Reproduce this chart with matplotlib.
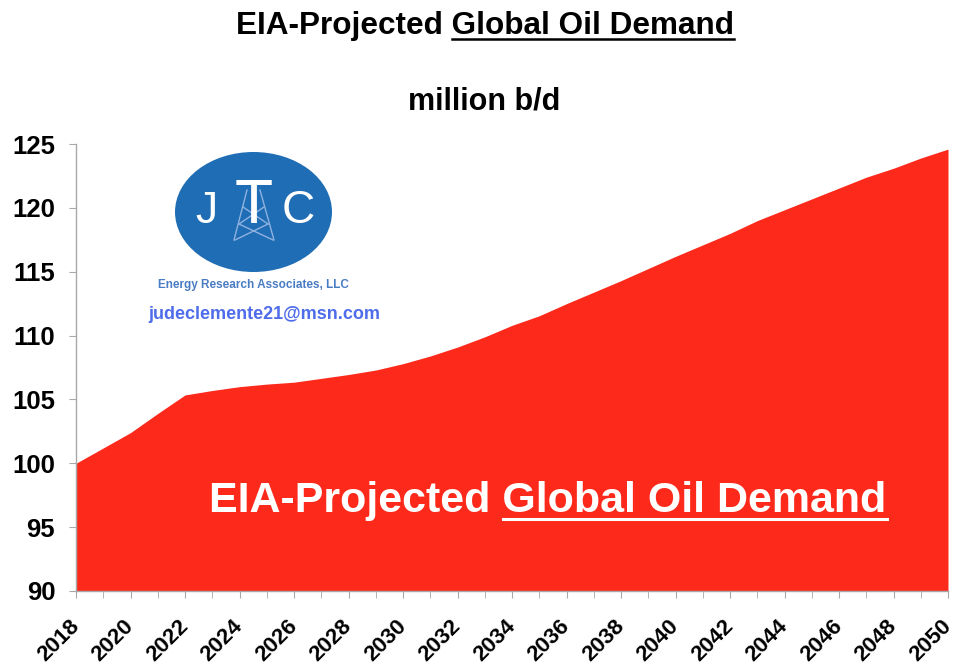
import matplotlib
matplotlib.use("Agg")
import matplotlib.pyplot as plt
from matplotlib.patches import Ellipse
from matplotlib.lines import Line2D
from matplotlib.ticker import MultipleLocator

# ---- data ----
years = list(range(2018, 2051))
demand = [100.0, 101.2, 102.4, 103.9, 105.35, 105.7, 106.0, 106.2, 106.35, 106.65,
          106.95, 107.3, 107.8, 108.4, 109.1, 109.9, 110.8, 111.55, 112.5, 113.4,
          114.3, 115.25, 116.2, 117.1, 118.0, 119.0, 119.85, 120.7, 121.55, 122.4,
          123.1, 123.9, 124.6]
ytick_values = [90, 95, 100, 105, 110, 115, 120, 125]
xtick_labels = [str(y) for y in range(2018, 2051, 2)]

title_prefix = "EIA-Projected "
title_ul = "Global Oil Demand"
subtitle = "million b/d"

W, H = 954, 670
plt.rcParams['font.family'] = ['Liberation Sans', 'DejaVu Sans']

fig = plt.figure(figsize=(W / 100, H / 100), dpi=100)
fig.patch.set_facecolor('white')


def fx(px):
    return px / W


def fy(py):
    return 1 - py / H


ax = fig.add_axes([fx(76), fy(591), fx(948) - fx(76), fy(144) - fy(591)])
RED = '#fd2a1c'
ax.fill_between(years, demand, 90, color=RED, linewidth=0)
ax.set_xlim(2018, 2050)
ax.set_ylim(90, 125)

for s in ['top', 'right']:
    ax.spines[s].set_visible(False)
for s in ['left', 'bottom']:
    ax.spines[s].set_color('#a8a8a8')
    ax.spines[s].set_linewidth(1.0)
ax.set_zorder(1)

ax.set_yticks(ytick_values)
ax.set_yticklabels([str(v) for v in ytick_values], fontsize=18.5, fontweight='bold')
ax.tick_params(axis='y', length=5, color='#a8a8a8', pad=10)

ax.set_xticks(list(range(2018, 2051, 2)))
ax.set_xticklabels(xtick_labels, fontsize=16, fontweight='bold',
                   rotation=45, ha='right', va='center', rotation_mode='anchor')
ax.xaxis.set_minor_locator(MultipleLocator(1))
ax.tick_params(axis='x', which='both', length=5, color='#a8a8a8', pad=18)

# ---- titles with underline ----
def underlined(xc, yb, prefix, ul, size, color, lw, ul_off):
    full = fig.text(fx(xc), fy(yb), prefix + ul, ha='center', va='baseline',
                    fontsize=size, fontweight='bold', color=color, zorder=5)
    fig.canvas.draw()
    r = fig.canvas.get_renderer()
    bb = full.get_window_extent(r)
    tmp = fig.text(0, 0, ul, fontsize=size, fontweight='bold')
    wu = tmp.get_window_extent(r).width
    tmp.remove()
    x1 = bb.x1 / W
    x0 = (bb.x1 - wu) / W
    y = fy(yb + ul_off)
    fig.add_artist(Line2D([x0, x1], [y, y], transform=fig.transFigure,
                          color=color, linewidth=lw, zorder=5))


underlined(485, 34, title_prefix, title_ul, 22.7, 'black', 1.8, 5)
fig.text(fx(484), fy(109), subtitle, ha='center', va='baseline',
         fontsize=22, fontweight='bold', color='black')

# inner text on the red area
underlined(548, 512, title_prefix, title_ul, 31, 'white', 2.2, 7)

# ---- logo ----
BLUE = '#1f6db5'
fig.add_artist(Ellipse((fx(253.5), fy(212)), fx(157), 120 / H,
                       transform=fig.transFigure, facecolor=BLUE,
                       edgecolor='none', zorder=3))
LB = '#8fb2e0'
derrick = [((247, 190), (234, 240)), ((260, 190), (274, 240)),
           ((243, 207), (268, 224)), ((264, 207), (239, 224)),
           ((239, 224), (273, 240)), ((268, 224), (235, 240))]
for (xa, ya), (xb, yb) in derrick:
    fig.add_artist(Line2D([fx(xa), fx(xb)], [fy(ya), fy(yb)],
                          transform=fig.transFigure, color=LB, linewidth=1.0,
                          zorder=4))
fig.text(fx(206), fy(223), 'J', ha='center', va='baseline', fontsize=32,
         color='white', zorder=5)
fig.text(fx(253.5), fy(223), 'T', ha='center', va='baseline', fontsize=45,
         color='white', zorder=5)
fig.text(fx(298.5), fy(223), 'C', ha='center', va='baseline', fontsize=33,
         color='white', zorder=5)
fig.text(fx(253), fy(285), 'Energy Research Associates, LLC', ha='center',
         va='center', fontsize=8.5, fontweight='bold', color='#4a7cc4', zorder=5)
fig.text(fx(264), fy(314), 'judeclemente21@msn.com', ha='center', va='center',
         fontsize=13, fontweight='bold', color='#4f6cea', zorder=5)

fig.savefig('out.png', dpi=100)
